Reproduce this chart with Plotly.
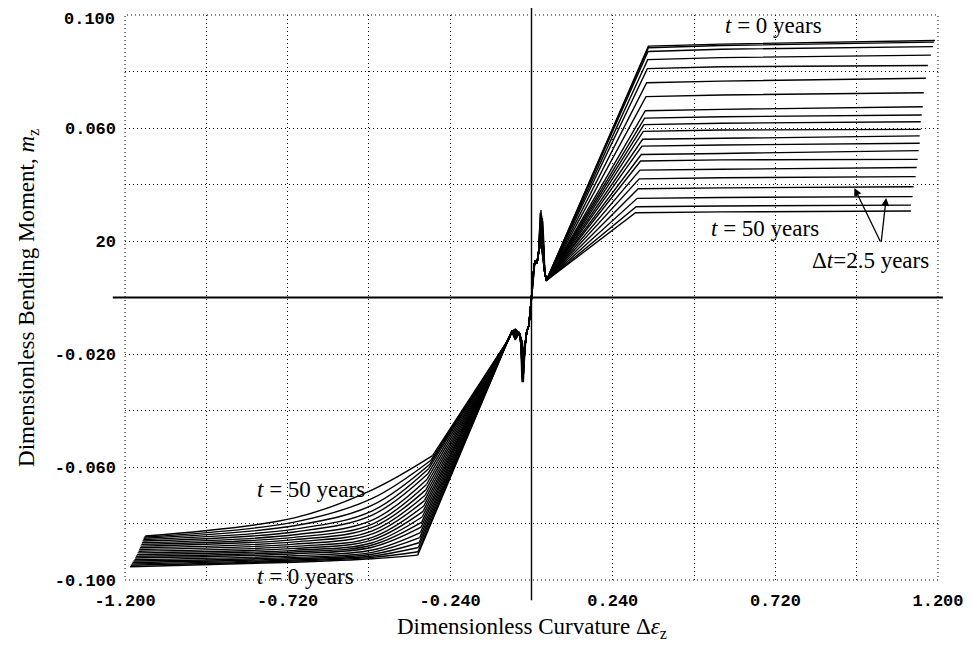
import plotly.graph_objects as go

# ---------------- data ----------------
t_years = [0, 2.5, 5, 7.5, 10, 12.5, 15, 17.5, 20, 22.5, 25, 27.5, 30, 32.5, 35,
           37.5, 40, 42.5, 45, 47.5, 50]

# positive branch: knee, a point at curvature 0.56, and the right end of each curve
pos_knee_x = [0.345, 0.345, 0.344, 0.343, 0.342, 0.340, 0.338, 0.336, 0.334, 0.332, 0.330,
              0.328, 0.326, 0.324, 0.322, 0.320, 0.318, 0.315, 0.312, 0.309, 0.307]
pos_knee_m = [0.0890, 0.0884, 0.0871, 0.0842, 0.0810, 0.0760, 0.0711, 0.0661, 0.0635, 0.0612,
              0.0588, 0.0560, 0.0536, 0.0506, 0.0483, 0.0451, 0.0420, 0.0385, 0.0351, 0.0321, 0.0300]
pos_mid_x = 0.56
pos_mid_m = [0.0897, 0.0892, 0.0879, 0.0849, 0.0817, 0.0766, 0.0717, 0.0666, 0.0640, 0.0617,
             0.0593, 0.0564, 0.0540, 0.0510, 0.0487, 0.0454, 0.0424, 0.0388, 0.0354, 0.0324, 0.0303]
pos_end_x = [1.191, 1.188, 1.185, 1.179, 1.170, 1.164, 1.158, 1.155, 1.152, 1.149, 1.149,
             1.146, 1.146, 1.143, 1.140, 1.137, 1.134, 1.128, 1.125, 1.120, 1.120]
pos_end_m = [0.0910, 0.0904, 0.0888, 0.0858, 0.0821, 0.0776, 0.0725, 0.0675, 0.0646, 0.0622,
             0.0595, 0.0572, 0.0546, 0.0520, 0.0489, 0.0460, 0.0428, 0.0392, 0.0357, 0.0327, 0.0306]

# negative branch: knee, points at curvature -0.47 and -0.70, and the left end
neg_knee_x = [-0.336, -0.335, -0.334, -0.332, -0.330, -0.328, -0.326, -0.324, -0.322, -0.320,
              -0.318, -0.316, -0.314, -0.312, -0.310, -0.308, -0.306, -0.303, -0.300, -0.296, -0.292]
neg_knee_m = [-0.0912, -0.0900, -0.0885, -0.0868, -0.0850, -0.0832, -0.0813, -0.0795, -0.0776,
              -0.0757, -0.0738, -0.0719, -0.0700, -0.0681, -0.0662, -0.0643, -0.0624, -0.0605,
              -0.0590, -0.0575, -0.0560]
neg_b47_x = -0.47
neg_b47_m = [-0.0925, -0.0920, -0.0915, -0.0909, -0.0902, -0.0894, -0.0884, -0.0876, -0.0868,
             -0.0858, -0.0849, -0.0837, -0.0826, -0.0814, -0.0802, -0.0788, -0.0770, -0.0755,
             -0.0735, -0.0711, -0.0681]
neg_b70_x = -0.70
neg_b70_m = [-0.0937, -0.0933, -0.0929, -0.0925, -0.0920, -0.0914, -0.0907, -0.0901, -0.0895,
             -0.0888, -0.0881, -0.0873, -0.0865, -0.0857, -0.0849, -0.0840, -0.0830, -0.0820,
             -0.0808, -0.0795, -0.0780]
neg_end_x = [-1.185, -1.183, -1.180, -1.178, -1.175, -1.172, -1.170, -1.168, -1.165, -1.163,
             -1.160, -1.158, -1.156, -1.154, -1.152, -1.150, -1.148, -1.146, -1.145, -1.143, -1.140]
neg_end_m = [-0.0953, -0.0948, -0.0943, -0.0938, -0.0933, -0.0928, -0.0922, -0.0916, -0.0910,
             -0.0904, -0.0898, -0.0892, -0.0886, -0.0880, -0.0874, -0.0868, -0.0862, -0.0857,
             -0.0852, -0.0848, -0.0844]

# jagged region near the origin
spike_pos_x = [0.026, 0.030, 0.028, 0.032, 0.027, 0.031, 0.029, 0.025, 0.030, 0.028, 0.033,
               0.026, 0.029, 0.031, 0.027, 0.030, 0.028, 0.032, 0.026, 0.029, 0.031]
spike_pos_m = [0.030, 0.029, 0.031, 0.028, 0.030, 0.027, 0.029, 0.026, 0.028, 0.025, 0.027,
               0.024, 0.026, 0.023, 0.025, 0.022, 0.024, 0.021, 0.023, 0.020, 0.022]
spike_neg_x = [-0.024, -0.027, -0.025, -0.028, -0.023, -0.026, -0.025, -0.027, -0.024, -0.026,
               -0.028, -0.025, -0.023, -0.027, -0.025, -0.026, -0.024, -0.028, -0.025, -0.027, -0.026]
spike_neg_m = [-0.030, -0.029, -0.028, -0.030, -0.027, -0.029, -0.026, -0.028, -0.025, -0.027,
               -0.024, -0.026, -0.023, -0.025, -0.022, -0.024, -0.021, -0.023, -0.020, -0.022, -0.019]
shelf_neg_m = [-0.0150, -0.0112, -0.0135, -0.0120, -0.0145, -0.0115, -0.0140, -0.0125, -0.0148,
               -0.0118, -0.0138, -0.0122, -0.0143, -0.0113, -0.0132, -0.0127, -0.0147, -0.0116,
               -0.0136, -0.0124, -0.0141]
core_pos_x = [0.004, 0.010, 0.016, 0.021]
core_pos_m = [0.007, 0.013, 0.012, 0.016]
after_pos_x = [0.039, 0.044]
after_pos_m = [0.009, 0.006]
core_neg_x = [-0.004, -0.008, -0.014, -0.019]
core_neg_m = [-0.006, -0.010, -0.012, -0.017]
after_neg_x = [-0.036, -0.048, -0.058, -0.066]
after_neg_m = [-0.0125, None, -0.0120, -0.0145]

x_tickvals = [-1.2, -0.96, -0.72, -0.48, -0.24, 0.0, 0.24, 0.48, 0.72, 0.96, 1.2]
x_ticktext = ["-1.200", "", "-0.720", "", "-0.240", "", "0.240", "", "0.720", "", "1.200"]
y_tickvals = [-0.1, -0.08, -0.06, -0.04, -0.02, 0.0, 0.02, 0.04, 0.06, 0.08, 0.1]
y_ticktext = ["-0.100", "", "-0.060", "", "-0.020", "", "20", "", "0.060", "", ""]
y_top_label = "0.100"

# ---------------- figure ----------------
fig = go.Figure()
line = dict(color="black", width=1.4)
for i, t in enumerate(t_years):
    an_m = [shelf_neg_m[i] if v is None else v for v in after_neg_m]
    xs = ([neg_knee_x[i]] + after_neg_x[::-1]
          + [spike_neg_x[i] - 0.004, spike_neg_x[i]] + core_neg_x[::-1] + [0.0]
          + core_pos_x + [spike_pos_x[i], spike_pos_x[i] + 0.004] + after_pos_x
          + [pos_knee_x[i], pos_mid_x, pos_end_x[i]])
    ys = ([neg_knee_m[i]] + an_m[::-1]
          + [-0.016, spike_neg_m[i]] + core_neg_m[::-1] + [0.0]
          + core_pos_m + [spike_pos_m[i], 0.018] + after_pos_m
          + [pos_knee_m[i], pos_mid_m[i], pos_end_m[i]])
    fig.add_trace(go.Scatter(x=xs, y=ys, mode="lines", name=f"t = {t} years",
                             line=line, showlegend=False, hoverinfo="skip"))
    # negative-side plateau of the same curve, drawn smooth
    fig.add_trace(go.Scatter(x=[neg_end_x[i], neg_b70_x, neg_b47_x, neg_knee_x[i]],
                             y=[neg_end_m[i], neg_b70_m[i], neg_b47_m[i], neg_knee_m[i]],
                             mode="lines", line=dict(color="black", width=1.4, shape="spline",
                                                     smoothing=1.0),
                             showlegend=False, hoverinfo="skip"))

serif = dict(family="Liberation Serif", size=23, color="black")
mono = dict(family="Liberation Mono", size=17, color="black", weight="bold")

# the page adds an 8px body margin, so the figure is 8px smaller than the window
fig.update_layout(
    width=963, height=639,
    margin=dict(l=117, r=31, t=7, b=67),
    paper_bgcolor="white", plot_bgcolor="white",
    showlegend=False,
)
fig.update_xaxes(range=[-1.2, 1.2], tickvals=x_tickvals, ticktext=x_ticktext,
                 showgrid=True, gridcolor="black", griddash="1px,3px", gridwidth=1,
                 zeroline=False, showline=False, ticks="", tickfont=mono,
                 ticklabelstandoff=8)
fig.update_yaxes(range=[-0.1, 0.1], tickvals=y_tickvals, ticktext=y_ticktext,
                 showgrid=True, gridcolor="black", griddash="1px,3px", gridwidth=1,
                 zeroline=False, showline=False, ticks="", tickfont=mono,
                 ticklabelstandoff=8)

# top tick label placed as text so it is not dropped at the page edge
fig.add_annotation(xref="paper", yref="y", x=0, y=y_tickvals[-1], xanchor="right",
                   yanchor="middle", xshift=-8, yshift=-4, showarrow=False,
                   text=y_top_label, font=mono)

# dotted frame
fig.add_shape(type="rect", xref="paper", yref="paper", x0=0, x1=1, y0=0, y1=1,
              line=dict(color="black", width=1, dash="1px,3px"), layer="below")
# solid axes through the origin
fig.add_shape(type="line", xref="paper", yref="y", x0=-0.015, x1=1.006, y0=0, y1=0,
              line=dict(color="black", width=2))
fig.add_shape(type="line", xref="x", yref="paper", x0=0, x1=0, y0=-0.036, y1=1.018,
              line=dict(color="black", width=1.4))

# axis titles
fig.add_annotation(xref="paper", yref="paper", x=0.5, y=-0.085, showarrow=False,
                   text="Dimensionless Curvature Δ<i>ε</i><sub>z</sub>", font=serif,
                   xanchor="center", yanchor="middle")
fig.add_annotation(xref="paper", yref="paper", x=-0.12, y=0.5, showarrow=False,
                   text="Dimensionless Bending Moment, <i>m</i><sub>z</sub>", font=serif,
                   textangle=-90, xanchor="center", yanchor="middle")

# labels inside the plot
fig.add_annotation(x=0.714, y=0.0962, text="<i>t</i> = 0 years", showarrow=False, font=serif)
fig.add_annotation(x=0.688, y=0.0245, text="<i>t</i> = 50 years", showarrow=False, font=serif)
fig.add_annotation(x=1.0, y=0.0132, text="Δ<i>t</i>=2.5 years", showarrow=False, font=serif)
fig.add_annotation(x=-0.652, y=-0.0678, text="<i>t</i> = 50 years", showarrow=False, font=serif)
fig.add_annotation(x=-0.667, y=-0.0986, text="<i>t</i> = 0 years", showarrow=False, font=serif)

# arrows for Δt
for tipx, tipy in [(0.953, 0.0388), (1.047, 0.0352)]:
    fig.add_annotation(x=tipx, y=tipy, ax=1.032, ay=0.0193, axref="x", ayref="y",
                       text="", showarrow=True, arrowhead=2, arrowsize=1.2,
                       arrowwidth=1.3, arrowcolor="black")

fig.write_html("out.html")
